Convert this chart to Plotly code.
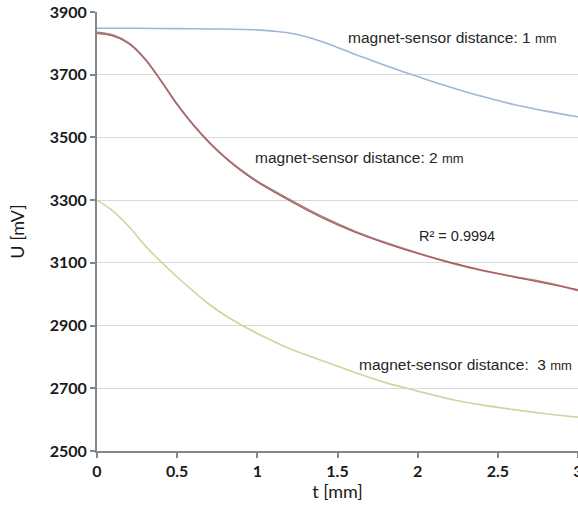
import plotly.graph_objects as go

# 1 mm series
t1 = [0, 0.25, 0.5, 0.75, 1.0, 1.1, 1.2, 1.3, 1.4, 1.5, 1.6, 1.7, 1.8, 1.9, 2.0, 2.2, 2.4, 2.6, 2.8, 3.0]
u1 = [3848, 3848, 3847, 3846, 3843, 3839, 3833, 3822, 3806, 3787, 3767, 3748, 3729, 3711, 3694, 3661, 3631, 3605, 3584, 3566]

# 2 mm series (measured) and polynomial trendline
t2 = [0, 0.1, 0.2, 0.3, 0.4, 0.5, 0.6, 0.7, 0.8, 0.9, 1.0, 1.2, 1.4, 1.6, 1.8, 2.0, 2.2, 2.4, 2.6, 2.8, 3.0]
u2 = [3835, 3826, 3800, 3750, 3680, 3605, 3540, 3484, 3436, 3395, 3360, 3302, 3248, 3202, 3164, 3131, 3101, 3076, 3056, 3037, 3012]
u2_fit = [3831, 3823, 3798, 3749, 3681, 3607, 3542, 3485, 3434, 3393, 3357, 3298, 3244, 3199, 3162, 3130, 3102, 3077, 3055, 3034, 3015]

# 3 mm series
t3 = [0, 0.1, 0.2, 0.3, 0.4, 0.5, 0.6, 0.7, 0.8, 0.9, 1.0, 1.2, 1.4, 1.6, 1.8, 2.0, 2.2, 2.4, 2.6, 2.8, 3.0]
u3 = [3300, 3265, 3215, 3155, 3103, 3055, 3010, 2968, 2932, 2902, 2875, 2827, 2789, 2752, 2718, 2691, 2666, 2647, 2632, 2619, 2608]

y_ticks = [2500, 2700, 2900, 3100, 3300, 3500, 3700, 3900]
x_ticks = [0, 0.5, 1, 1.5, 2, 2.5, 3]
x_tick_text = ["0", "0.5", "1", "1.5", "2", "2.5", "3"]

fig = go.Figure()
fig.add_trace(go.Scatter(x=t1, y=u1, mode="lines", line=dict(color="#9fb6d8", width=1.6, shape="spline", smoothing=1.0)))
fig.add_trace(go.Scatter(x=t2, y=u2, mode="lines", line=dict(color="#9b8588", width=2, shape="spline", smoothing=1.0)))
fig.add_trace(go.Scatter(x=t2, y=u2_fit, mode="lines", line=dict(color="#c0504d", width=1, shape="spline", smoothing=1.0)))
fig.add_trace(go.Scatter(x=t3, y=u3, mode="lines", line=dict(color="#c8d89e", width=1.6, shape="spline", smoothing=1.0)))

ann_font = dict(family="Liberation Sans, Arial", size=15.5, color="#262626")
def label(x, y, text, size=None):
    f = dict(ann_font)
    if size:
        f["size"] = size
    fig.add_annotation(x=x, y=y, xref="x", yref="y", text=text, showarrow=False,
                       font=f, xanchor="left", yanchor="middle")

label(1.55, 3818, "magnet-sensor distance: 1 <span style='font-size:13px'>mm</span>")
label(0.975, 3436, "magnet-sensor distance: 2 <span style='font-size:13px'>mm</span>")
label(1.995, 3186, "R² = 0.9994", size=14.5)
label(1.62, 2776, "magnet-sensor distance:  3 <span style='font-size:13px'>mm</span>")

axis_font = dict(family="Lato", size=16, color="#1a1a1a", weight="bold")
fig.update_layout(
    width=578, height=513,
    margin=dict(l=97, r=0, t=12, b=62),
    paper_bgcolor="white", plot_bgcolor="white",
    showlegend=False,
    xaxis=dict(range=[0, 3], tickvals=x_ticks, ticktext=x_tick_text, showgrid=False,
               showline=True, linecolor="#868686", linewidth=2, ticks="outside",
               tickcolor="#868686", ticklen=5, tickwidth=1.5, tickfont=axis_font,
               ticklabeloverflow="allow", zeroline=False, automargin=False,
               title=dict(text="t [mm]", font=dict(family="Lato", size=18, color="#1a1a1a"), standoff=6)),
    yaxis=dict(range=[2500, 3900], tickvals=y_ticks, showgrid=True, gridcolor="#d9d9d9", gridwidth=1,
               showline=True, linecolor="#868686", linewidth=2, ticks="outside",
               tickcolor="#868686", ticklen=5, tickwidth=1.5, tickfont=axis_font, zeroline=False,
               automargin=False,
               title=dict(text="U [mV]", font=dict(family="Lato", size=18, color="#1a1a1a"), standoff=20)),
)

fig.write_html("out.html")
